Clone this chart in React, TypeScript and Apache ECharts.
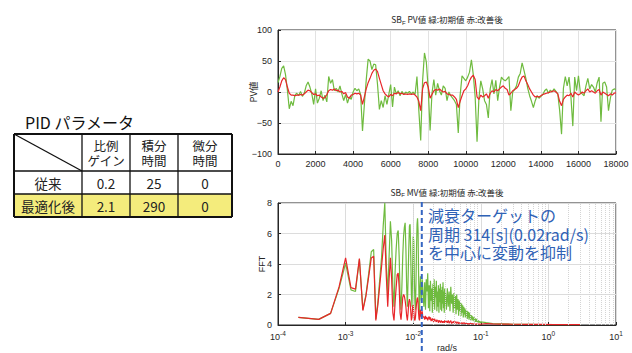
import React, { useEffect, useRef } from "react";
import * as echarts from "echarts";

// ---------------- data ----------------
const pvTimeStep = 100; // seconds between samples
const pvGreen = [
  15, 25, 38, 42, 28, 3, -27, -15, -22, -5,
  -2, -6, 1, -7, -2, 10, 16, 8, -3, -20,
  5, -18, -10, 2, -14, -5, -16, 25, 14, 20,
  2, 6, 0, 10, -3, -14, -4, -18, -8, -12,
  0, 6, 2, 5, -4, -63, -20, 20, 53, 50,
  36, 45, 44, 12, -28, -14, -25, -6, -20, -4,
  12, -24, 8, -3, 2, -6, 1, -4, 0, -2,
  1, -3, 0, -4, 25, -30, -78, 18, 63, 48,
  5, -62, -2, 20, -5, 14, 2, -5, 10, 6,
  -14, 0, -6, -10, -14, -20, -66, -5, 26, 22,
  18, 24, 32, 52, 28, -8, -80, -10, 18, 5,
  -14, -20, -42, 5, 20, -3, 19, -14, 8, 24,
  20, 18, 21, 25, -30, 0, 4, 10, 24, 30,
  47, 35, 22, 6, -6, -15, -25, -14, -6, -10,
  -7, -4, 2, 5, -2, 3, 0, 5, 1, -3,
  -30, -68, 6, 25, 10, 24, -8, -55, 24, 2,
  26, 0, -3, -6, 10, 22, 5, 12, 8, 0,
  15, 24, -48, 14, 16, 8, -30, -10, 3, 5,
  4,
];
const pvRed = [
  0, 8, 18, 23, 20, 8, -2, -5, -5, -6,
  -5, -5, -4, -5, -3, 0, 3, 2, -1, -4,
  -3, -6, -5, -8, -10, -9, -4, 2, 4, 3,
  5, 2, 3, 0, 1, -3, -1, -8, -10, -5,
  -4, -2, -3, -2, -5, -20, -8, 5, 15, 22,
  30, 35, 37, 33, 22, 12, 2, -3, -6, -8,
  -4, -6, -2, -3, -1, -3, -2, -4, -3, -4,
  -3, -4, -3, -5, -8, -15, -30, 5, 15, 16,
  8, -10, -4, 2, 4, 3, 5, 2, 0, 1,
  -3, -4, -5, -5, -8, -12, -25, -15, -6, 2,
  5, 10, 18, 24, 27, 20, -8, -12, -5, -8,
  -6, -3, -10, -2, 2, 0, 4, 2, 5, 8,
  10, 6, 4, -5, -2, 2, 4, 6, 10, 18,
  24, 26, 18, 12, 5, 0, -5, -8, -7, -8,
  -6, -4, -3, -2, -1, 0, 1, 2, 0, -3,
  -15, -22, -12, -8, -5, -6, -2, -8, 0, -3,
  -5, -3, 0, -2, 2, 5, 0, 2, 0, -2,
  2, 4, -5, 0, -2, -4, -6, -3, -5, -2,
  -1,
];

// FFT (rad/s) — low band on the FFT bin grid
const fftLowStep = 0.0002;
const fftLowGreen = [
  0.5, 0.37, 0.76, 2.4, 4.05, 2.3, 2.2, 4.3, 1.0, 2.0,
  3.4, 4.8, 4.95, 0.4, 1.5, 3.0, 4.4, 6.5, 8.0, 4.0,
  2.0, 4.5, 6.8, 5.5, 2.5, 1.2, 3.5, 5.0, 6.0, 6.2,
  4.5, 2.0, 1.0, 2.5, 4.5, 5.8, 6.4, 6.7, 5.0, 2.5,
  1.2, 3.0, 5.0, 6.5, 6.6, 4.5, 2.0, 1.2, 3.5, 5.8,
  5.5, 3.0, 1.5, 1.0, 2.8, 5.0, 6.6, 7.0, 6.2, 3.5,
  1.5, 0.8, 2.5, 3.2, 2.5, 1.6, 2.2, 3.0, 2.6, 2.0,
];
const fftLowRed = [
  0.5, 0.37, 0.76, 2.5, 4.4, 2.45, 2.35, 4.35, 0.95, 1.9,
  3.2, 4.4, 4.5, 0.3, 1.3, 2.6, 3.8, 5.0, 5.9, 3.2,
  1.2, 3.0, 4.4, 3.0, 0.8, 0.3, 1.5, 2.5, 3.3, 3.4,
  2.5, 0.8, 0.35, 1.0, 1.8, 2.0, 1.9, 1.6, 1.2, 0.6,
  0.3, 0.8, 1.5, 1.7, 1.5, 0.9, 0.3, 0.5, 1.2, 1.3,
  0.9, 0.4, 0.3, 0.5, 1.0, 1.4, 1.7, 1.8, 1.5, 0.8,
  0.4, 0.3, 0.9, 1.0, 0.6, 0.5, 0.8, 0.9, 0.6, 0.5,
];
const fftMidStart = 0.0144;
const fftMidStep = 0.0004;
const fftMidGreen = [
  1.2, 2.8, 1.0, 3.0, 2.2, 3.4, 1.1, 2.6, 0.9, 2.9,
  1.6, 2.4, 0.8, 2.7, 1.3, 3.0, 1.0, 2.5, 1.8, 2.9,
  0.9, 2.2, 1.2, 2.6, 0.8, 2.4, 1.5, 2.7, 1.0, 2.3,
  0.9, 2.5, 1.4, 2.8, 1.1, 2.2, 0.8, 2.4, 1.3, 2.1,
];
const fftMidRed = [
  0.55, 0.35, 0.6, 0.4, 0.5, 0.3, 0.45, 0.55, 0.35, 0.5,
  0.25, 0.4, 0.3, 0.45, 0.2, 0.35, 0.4, 0.25, 0.3, 0.2,
  0.35, 0.25, 0.3, 0.15, 0.25, 0.3, 0.2, 0.25, 0.15, 0.3,
  0.2, 0.25, 0.15, 0.2, 0.25, 0.15, 0.2, 0.3, 0.15, 0.2,
];
const fftHighStart = 0.031;
const fftHighStep = 0.001;
const fftHighGreen = [
  1.0, 2.4, 1.2, 2.2, 0.9, 2.5, 1.4, 2.0, 0.8, 2.1,
  1.1, 1.9, 0.7, 2.0, 1.0, 1.7, 0.6, 1.6, 0.9, 1.5,
  0.6, 1.4, 0.8, 1.3, 0.5, 1.2, 0.7, 1.1, 0.5, 1.0,
  0.6, 0.95, 0.4, 0.9, 0.5, 0.85, 0.35, 0.8, 0.45, 0.7,
  0.3, 0.65, 0.4, 0.6, 0.3, 0.55, 0.35, 0.5, 0.25, 0.5,
  0.3, 0.45, 0.2, 0.4, 0.25, 0.4, 0.2, 0.35, 0.2, 0.3,
  0.15, 0.3, 0.2, 0.28, 0.15, 0.25, 0.15, 0.22, 0.12, 0.2,
];
const fftHighRed = [
  0.25, 0.15, 0.3, 0.12, 0.22, 0.28, 0.1, 0.2, 0.15, 0.25,
  0.12, 0.18, 0.22, 0.1, 0.15, 0.2, 0.08, 0.15, 0.12, 0.18,
  0.1, 0.12, 0.15, 0.08, 0.12, 0.1, 0.14, 0.08, 0.1, 0.12,
  0.07, 0.1, 0.09, 0.12, 0.07, 0.09, 0.1, 0.06, 0.08, 0.1,
  0.07, 0.08, 0.06, 0.09, 0.07, 0.08, 0.06, 0.07, 0.08, 0.05,
  0.07, 0.06, 0.07, 0.05, 0.06, 0.07, 0.05, 0.06, 0.05, 0.06,
  0.05, 0.06, 0.04, 0.05, 0.06, 0.04, 0.05, 0.05, 0.04, 0.05,
];
const fftTailFreq = [0.12, 0.15, 0.2, 0.3, 0.5, 0.8, 1.2, 2, 3];
const fftTailGreen = [0.15, 0.1, 0.08, 0.05, 0.04, 0.03, 0.03, 0.02, 0.02];
const fftTailRed = [0.1, 0.08, 0.06, 0.05, 0.04, 0.04, 0.03, 0.03, 0.03];

const targetLineFreq = 0.0134;

const pvTitle = ["SB", "F", " PV値 緑:初期値 赤:改善後"];
const mvTitle = ["SB", "F", " MV値 緑:初期値 赤:改善後"];
const annotationLines = ["減衰ターゲットの", "周期 314[s](0.02rad/s)", "を中心に変動を抑制"];

const tableTitle = "PID パラメータ";
const tableHeader = ["", "比例\nゲイン", "積分\n時間", "微分\n時間"];
const tableRows = [
  ["従来", "0.2", "25", "0"],
  ["最適化後", "2.1", "290", "0"],
];

// ---------------- helpers ----------------
const LATIN = "'Liberation Sans', Arial, sans-serif";
const JP = "'Noto Sans CJK JP', sans-serif";
const INK = "#262626";
const GREEN = "#6fbb3f";
const RED = "#e8262a";
const BLUE = "#2f62b6";

function pvSeriesData(values: number[]) {
  return values.map((v, i) => [i * pvTimeStep, v]);
}

function fftSeriesData(low: number[], mid: number[], high: number[], tail: number[]) {
  const pts: number[][] = [];
  low.forEach((v, i) => pts.push([(i + 1) * fftLowStep, v]));
  mid.forEach((v, i) => pts.push([fftMidStart + i * fftMidStep, v]));
  high.forEach((v, i) => pts.push([fftHighStart + i * fftHighStep, v]));
  tail.forEach((v, i) => pts.push([fftTailFreq[i], v]));
  return pts;
}

function minorLogGrid() {
  const out: { xAxis: number }[] = [];
  for (let e = -4; e <= 0; e++) {
    for (let m = 2; m <= 9; m++) out.push({ xAxis: m * Math.pow(10, e) });
  }
  return out;
}

function titleText(parts: string[]) {
  return `{a|${parts[0]}}{s|${parts[1]}}{a|${parts[2]}}`;
}

const titleRich = {
  a: { fontSize: 8.5, fontFamily: JP, color: INK, fontWeight: "normal" },
  s: { fontSize: 6, fontFamily: LATIN, color: INK, fontWeight: "normal", padding: [7, 0, 0, 0] },
};

function tableGraphics() {
  const cols = [14, 82, 130, 178, 232];
  const rows = [134, 171, 194, 217];
  const els: any[] = [];
  els.push({
    type: "text", x: 25, y: 122,
    style: { text: tableTitle, fontSize: 16, fontFamily: JP, fill: "#111", align: "left", verticalAlign: "middle" },
  });
  els.push({
    type: "rect", shape: { x: cols[0], y: rows[2], width: cols[4] - cols[0], height: rows[3] - rows[2] },
    style: { fill: "#f4ec7c" },
  });
  rows.forEach((y, i) => {
    const outer = i === 0 || i === rows.length - 1;
    els.push({ type: "line", shape: { x1: cols[0], y1: y, x2: cols[4], y2: y }, style: { stroke: "#111", lineWidth: outer ? 2 : 1.3 } });
  });
  cols.forEach((x, i) => {
    const outer = i === 0 || i === cols.length - 1;
    els.push({ type: "line", shape: { x1: x, y1: rows[0], x2: x, y2: rows[3] }, style: { stroke: "#111", lineWidth: outer ? 2 : 1.3 } });
  });
  els.push({ type: "line", shape: { x1: cols[0], y1: rows[0], x2: cols[1], y2: rows[1] }, style: { stroke: "#111", lineWidth: 1.3 } });
  tableHeader.forEach((t, c) => {
    if (!t) return;
    els.push({
      type: "text", x: (cols[c] + cols[c + 1]) / 2, y: (rows[0] + rows[1]) / 2 + 0.5,
      style: { text: t, fontSize: 12.5, lineHeight: 15.5, fontFamily: JP, fill: "#222", align: "center", verticalAlign: "middle" },
    });
  });
  tableRows.forEach((r, ri) => {
    r.forEach((t, c) => {
      els.push({
        type: "text", x: (cols[c] + cols[c + 1]) / 2, y: (rows[ri + 1] + rows[ri + 2]) / 2,
        style: { text: t, fontSize: 13.5, fontFamily: JP, fill: "#222", align: "center", verticalAlign: "middle" },
      });
    });
  });
  return els;
}

export default function App() {
  const ref = useRef<HTMLDivElement>(null);
  useEffect(() => {
    if (!ref.current) return;
    const chart = echarts.init(ref.current, undefined, { renderer: "svg" });
    const axisLabelBase = { color: INK, fontSize: 9, fontFamily: LATIN };
    const option: any = {
      animation: false,
      backgroundColor: "#ffffff",
      title: [
        { text: titleText(pvTitle), left: 447, top: 12.5, padding: 0, textAlign: "center", textStyle: { fontWeight: "normal", rich: titleRich } },
        { text: titleText(mvTitle), left: 447, top: 185, padding: 0, textAlign: "center", textStyle: { fontWeight: "normal", rich: titleRich } },
      ],
      grid: [
        { left: 278, top: 30, width: 338, height: 124, show: true, borderColor: INK, borderWidth: 1, backgroundColor: "#fff" },
        { left: 278, top: 203, width: 338, height: 123, show: true, borderColor: INK, borderWidth: 1, backgroundColor: "#fff" },
      ],
      xAxis: [
        {
          type: "value", gridIndex: 0, min: 0, max: 18000, interval: 2000,
          axisLine: { onZero: false, lineStyle: { color: INK } },
          axisTick: { inside: true, length: 3, lineStyle: { color: INK } },
          axisLabel: { ...axisLabelBase, margin: 5, formatter: (v: number) => String(v) },
          splitLine: { show: true, lineStyle: { color: "#e2e2e2" } },
        },
        {
          type: "log", logBase: 10, gridIndex: 1, min: 0.0001, max: 10,
          name: "rad/s", nameLocation: "middle", nameGap: 18, nameMoveOverlap: false,
          nameTextStyle: { color: INK, fontSize: 9, fontFamily: LATIN },
          axisLine: { onZero: false, lineStyle: { color: INK } },
          axisTick: { inside: true, length: 3, lineStyle: { color: INK } },
          axisLabel: {
            margin: 5,
            formatter: (v: number) => `{b|10}{e|${Math.round(Math.log10(v))}}`,
            rich: {
              b: { fontSize: 9, fontFamily: LATIN, color: INK },
              e: { fontSize: 6.5, fontFamily: LATIN, color: INK, padding: [0, 0, 7, 0] },
            },
          },
          splitLine: { show: true, lineStyle: { color: "#dcdcdc" } },
        },
      ],
      yAxis: [
        {
          type: "value", gridIndex: 0, min: -100, max: 100, interval: 50,
          name: "PV値", nameLocation: "middle", nameGap: 20, nameMoveOverlap: false,
          nameTextStyle: { color: INK, fontSize: 9.5, fontFamily: JP },
          axisLine: { show: true, onZero: false, lineStyle: { color: INK } },
          axisTick: { show: true, inside: true, length: 3, lineStyle: { color: INK } },
          axisLabel: { ...axisLabelBase, margin: 6, formatter: (v: number) => String(v).replace("-", "\u2212") },
          splitLine: { show: true, lineStyle: { color: "#e2e2e2" } },
        },
        {
          type: "value", gridIndex: 1, min: 0, max: 8, interval: 2,
          name: "FFT", nameLocation: "middle", nameGap: 12, nameMoveOverlap: false,
          nameTextStyle: { color: INK, fontSize: 9, fontFamily: LATIN },
          axisLine: { show: true, onZero: false, lineStyle: { color: INK } },
          axisTick: { show: true, inside: true, length: 3, lineStyle: { color: INK } },
          axisLabel: { ...axisLabelBase, margin: 6 },
          splitLine: { show: true, lineStyle: { color: "#dcdcdc" } },
        },
      ],
      series: [
        {
          type: "line", xAxisIndex: 0, yAxisIndex: 0, data: pvSeriesData(pvGreen),
          showSymbol: false, symbol: "none", lineStyle: { color: GREEN, width: 1.2 }, z: 2,
        },
        {
          type: "line", xAxisIndex: 0, yAxisIndex: 0, data: pvSeriesData(pvRed),
          showSymbol: false, symbol: "none", lineStyle: { color: RED, width: 1.2 }, z: 3,
        },
        {
          type: "line", xAxisIndex: 1, yAxisIndex: 1, data: [[0.0001, 0]],
          symbol: "none", lineStyle: { opacity: 0 }, z: 1, silent: true,
          markLine: {
            silent: true, symbol: "none", label: { show: false },
            lineStyle: { color: "#d4d4d4", type: "dotted", width: 1 },
            data: minorLogGrid(),
          },
        },
        {
          type: "line", xAxisIndex: 1, yAxisIndex: 1,
          data: fftSeriesData(fftLowGreen, fftMidGreen, fftHighGreen, fftTailGreen),
          showSymbol: false, symbol: "none", lineStyle: { color: GREEN, width: 1.2 }, z: 2,
        },
        {
          type: "line", xAxisIndex: 1, yAxisIndex: 1,
          data: fftSeriesData(fftLowRed, fftMidRed, fftHighRed, fftTailRed),
          showSymbol: false, symbol: "none", lineStyle: { color: RED, width: 1.2 }, z: 3,
        },
      ],
    };
    chart.setOption(option);

    const lineX = chart.convertToPixel({ xAxisIndex: 1 }, targetLineFreq) as number;
    const lineTop = chart.convertToPixel({ yAxisIndex: 1 }, 8) as number;
    chart.setOption({
      graphic: [
        ...tableGraphics(),
        {
          type: "line", z: 50,
          shape: { x1: lineX, y1: lineTop - 1, x2: lineX, y2: 353 },
          style: { stroke: "#3566c2", lineWidth: 2, lineDash: [5, 3] },
        },
        {
          type: "text", x: 428, y: 206, z: 60,
          style: {
            text: annotationLines.join("\n"), fontSize: 16, lineHeight: 18.5,
            fontFamily: JP, fill: BLUE, align: "left", verticalAlign: "top",
          },
        },
      ],
    });
    return () => chart.dispose();
  }, []);
  return <div ref={ref} style={{ position: "absolute", left: 0, top: 0, width: 632, height: 353 }} />;
}
